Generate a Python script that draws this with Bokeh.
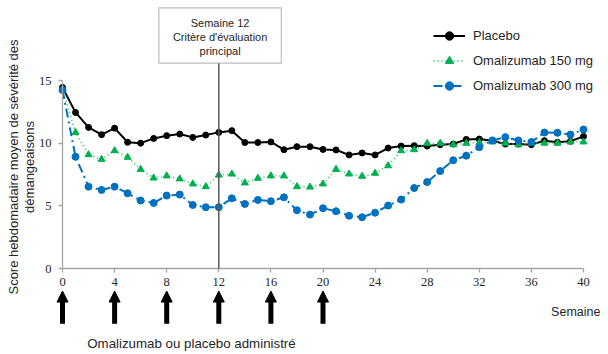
import math
from bokeh.plotting import figure
from bokeh.models import (Range1d, FixedTicker, Label, Arrow, NormalHead, ColumnDataSource,
                          PolyAnnotation, Legend, LegendItem)
from bokeh.embed import file_html
from bokeh.resources import INLINE

# ---------------- data ----------------
weeks = list(range(0, 41))
placebo = [14.45, 12.45, 11.26, 10.68, 11.2, 10.07, 10.0, 10.38, 10.6, 10.73, 10.46, 10.65,
           10.86, 11.0, 10.05, 10.05, 10.1, 9.48, 9.72, 9.72, 9.5, 9.46, 9.06, 9.22, 9.06,
           9.61, 9.77, 9.8, 9.77, 9.88, 9.93, 10.3, 10.33, 10.2, 9.93, 9.93, 9.88, 10.2,
           10.07, 10.15, 10.54]
omal150 = [14.3, 10.86, 9.08, 8.71, 9.4, 8.87, 7.91, 7.22, 7.39, 7.15, 6.75, 6.53, 7.46,
           7.54, 6.83, 7.2, 7.39, 7.39, 6.53, 6.5, 6.75, 7.91, 7.54, 7.36, 7.6, 8.2, 9.4,
           9.48, 9.99, 9.99, 9.88, 9.99, 10.05, 10.1, 10.0, 9.88, 10.0, 10.0, 10.0, 10.1, 10.1]
omal300 = [14.24, 8.92, 6.53, 6.27, 6.53, 6.0, 5.42, 5.23, 5.82, 5.9, 5.07, 4.89, 4.89,
           5.6, 5.15, 5.47, 5.37, 5.68, 4.65, 4.3, 4.81, 4.57, 4.21, 4.09, 4.45, 5.02, 5.5,
           6.42, 6.9, 7.77, 8.64, 9.0, 9.68, 10.22, 10.48, 10.22, 10.1, 10.85, 10.83, 10.69,
           11.09]
series_names = ["Placebo", "Omalizumab 150 mg", "Omalizumab 300 mg"]
x_ticks = [0, 4, 8, 12, 16, 20, 24, 28, 32, 36, 40]
y_ticks = [0, 5, 10, 15]
dose_weeks = [0, 4, 8, 12, 16, 20]
endpoint_week = 12
endpoint_lines = ["Semaine 12", "Critère d'évaluation", "principal"]
x_title = "Semaine"
y_title_lines = ["Score hebdomadaire moyen de sévérité des", "démangeaisons"]
dose_text = "Omalizumab ou placebo administré"

SANS = "Liberation Sans"
SERIF = "Liberation Serif"

W, H = 608, 354
X0, PXW = 62.0, 13.025     # pixel of week 0, pixels per week
Y0, PXV = 268.0, 12.533    # pixel of score 0, pixels per unit

p = figure(width=W, height=H, output_backend="svg", toolbar_location=None,
           x_range=Range1d(-X0 / PXW, (W - X0) / PXW),
           y_range=Range1d(-(H - Y0) / PXV, Y0 / PXV),
           min_border=0, min_border_left=0, min_border_right=0,
           min_border_top=0, min_border_bottom=0)
p.outline_line_color = None
p.xgrid.visible = False
p.ygrid.visible = False
p.background_fill_color = "white"
p.border_fill_color = "white"

for ax, ticks, bnd in ((p.xaxis, x_ticks, (0, 40)), (p.yaxis, y_ticks, (0, 15))):
    ax.ticker = FixedTicker(ticks=ticks)
    ax.bounds = bnd
    ax.fixed_location = 0
    ax.axis_line_color = "#a6a6a6"
    ax.axis_line_width = 1.3
    ax.major_tick_line_color = "#a6a6a6"
    ax.major_tick_line_width = 1.3
    ax.major_tick_out = 4
    ax.major_tick_in = 0
    ax.minor_tick_line_color = None
    ax.major_label_text_font = SERIF
    ax.major_label_text_font_size = "12.5px"
    ax.major_label_text_color = "#262626"
p.xaxis.major_label_standoff = 5
p.yaxis.major_label_standoff = 7

# series
green_line = "#33cc66"
green_mark = "#00b050"
blue = "#0070c0"
r0l = p.line(weeks, placebo, line_color="black", line_width=2)
r0s = p.scatter(weeks, placebo, marker="circle", size=6, fill_color="black", line_color="black")
r1l = p.line(weeks, omal150, line_color=green_line, line_width=1.8, line_dash="1 3")
r1s = p.scatter(weeks, omal150, marker="triangle", size=7, fill_color=green_mark, line_color=green_mark)
r2l = p.line(weeks, omal300, line_color=blue, line_width=2, line_dash="9 4 2 4")
r2s = p.scatter(weeks, omal300, marker="circle", size=7, fill_color=blue, line_color=blue)

item_h, item_gap = 21, 4
legend_h = 3 * item_h + 2 * item_gap
legend = Legend(items=[LegendItem(label=series_names[0], renderers=[r0l, r0s]),
                       LegendItem(label=series_names[1], renderers=[r1l, r1s]),
                       LegendItem(label=series_names[2], renderers=[r2l, r2s])],
                location=(433, H - 24.5 - legend_h), padding=0, margin=0, spacing=item_gap,
                glyph_width=32, glyph_height=item_h, label_height=item_h, label_standoff=8,
                label_text_font=SANS, label_text_font_size="13px", label_text_color="#262626",
                background_fill_alpha=0, border_line_color=None)
p.add_layout(legend, "center")

# endpoint line and box
p.add_layout(Arrow(x_start=endpoint_week, y_start=0, x_end=endpoint_week, y_end=16.38,
                   end=None, line_color="#595959", line_width=1.5))
p.add_layout(PolyAnnotation(xs=[7.4, 16.8, 16.8, 7.4], ys=[16.38, 16.38, 20.8, 20.8],
                            fill_color="white", fill_alpha=1, line_color="#262626", line_width=1.2))
for txt, yv in zip(endpoint_lines, [19.55, 18.5, 17.38]):
    p.add_layout(Label(x=12.1, y=yv, text=txt, text_align="center", text_baseline="middle",
                       text_font=SANS, text_font_size="11px", text_color="#262626"))

# dose arrows
src = ColumnDataSource(dict(x=dose_weeks, y0=[-4.4] * len(dose_weeks), y1=[-1.8] * len(dose_weeks)))
p.add_layout(Arrow(source=src, x_start="x", y_start="y0", x_end="x", y_end="y1",
                   line_color="black", line_width=5,
                   end=NormalHead(size=11, fill_color="black", line_color="black", line_width=1)))

p.add_layout(Label(x=1.9, y=-5.95, text=dose_text, text_align="left", text_baseline="middle",
                   text_font=SANS, text_font_size="13.3px", text_color="#262626"))
p.add_layout(Label(x=41.3, y=-3.45, text=x_title, text_align="right", text_baseline="middle",
                   text_font=SANS, text_font_size="12.5px", text_color="#262626"))

# y title (two lines, rotated)
for txt, xv in zip(y_title_lines, [-3.75, -2.5]):
    p.add_layout(Label(x=xv, y=8.1, text=txt, angle=math.pi / 2, text_align="center",
                       text_baseline="middle", text_font=SANS, text_font_size="13px",
                       text_color="#262626"))

open("out.html", "w").write(file_html(p, INLINE))
